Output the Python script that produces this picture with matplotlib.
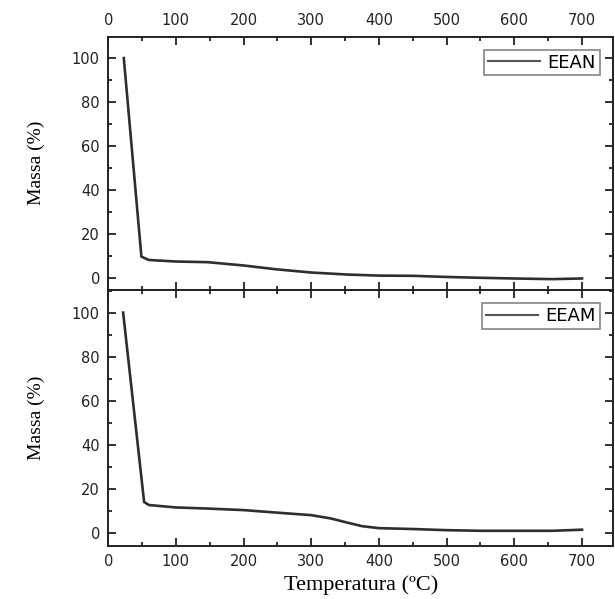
import numpy as np
import matplotlib
matplotlib.use("Agg")
import matplotlib.pyplot as plt
from matplotlib.ticker import MultipleLocator

# TGA curves
temp_eean = [23, 49, 60, 100, 147, 200, 247, 300, 352, 400, 451, 498, 551, 598, 656, 700]
mass_eean = [100, 9.8, 8.3, 7.6, 7.3, 5.8, 4.1, 2.6, 1.7, 1.2, 1.1, 0.6, 0.2, -0.1, -0.4, -0.1]

temp_eeam = [22, 53, 60, 100, 147, 200, 247, 300, 329, 352, 375, 400, 451, 498, 551, 598, 656, 700]
mass_eeam = [100, 14, 12.6, 11.5, 11, 10.3, 9.2, 8, 6.5, 4.7, 3, 2.1, 1.7, 1.2, 0.9, 0.9, 0.9, 1.4]

xticks = [0, 100, 200, 300, 400, 500, 600, 700]
yticks = [0, 20, 40, 60, 80, 100]

tickfont = 'DejaVu Sans'
labelfont = 'Liberation Serif'

fig = plt.figure(figsize=(6.15, 5.99), dpi=100)
ax1 = fig.add_axes([0.176, 0.516, 0.821, 0.423])
ax2 = fig.add_axes([0.176, 0.0885, 0.821, 0.4275], sharex=ax1)

series = [(ax1, temp_eean, mass_eean, 'EEAN', (-5.3, 109.8)),
          (ax2, temp_eeam, mass_eeam, 'EEAM', (-6, 110.3))]

for ax, t, m, name, ylim in series:
    ax.plot(t, m, color='#2e2e2e', lw=1.9, label=name)
    ax.set_xlim(0, 746)
    ax.set_ylim(*ylim)
    ax.set_xticks(xticks)
    ax.set_yticks(yticks)
    ax.xaxis.set_minor_locator(MultipleLocator(50))
    ax.yaxis.set_minor_locator(MultipleLocator(10))
    ax.tick_params(which='both', direction='in', top=True, right=True,
                   labelsize=10.5, width=1.3, colors='#222222', pad=6)
    ax.tick_params(which='major', length=6)
    ax.tick_params(which='minor', length=3)
    for lab in ax.get_xticklabels() + ax.get_yticklabels():
        lab.set_fontfamily(tickfont)
    for s in ax.spines.values():
        s.set_linewidth(1.4)
        s.set_color('#222222')
    ax.set_ylabel('Massa (%)', family=labelfont, fontsize=14)
    ax.yaxis.set_label_coords(-0.125, 0.5)
    leg = ax.legend(loc='upper right', prop={'family': tickfont, 'size': 13},
                    fancybox=False, edgecolor='#666666', handlelength=2.9,
                    borderpad=0.2, handletextpad=0.4, borderaxespad=0.75)
    leg.get_frame().set_linewidth(1.2)
    for h in leg.legend_handles:
        h.set_linewidth(1.5)
        h.set_color('#555555')

ax1.tick_params(axis='x', labeltop=True, labelbottom=False)
ax2.tick_params(axis='x', labeltop=False, labelbottom=True)
ax2.set_xlabel('Temperatura (ºC)', family=labelfont, fontsize=16, labelpad=4)

fig.savefig('out.png', dpi=100)
